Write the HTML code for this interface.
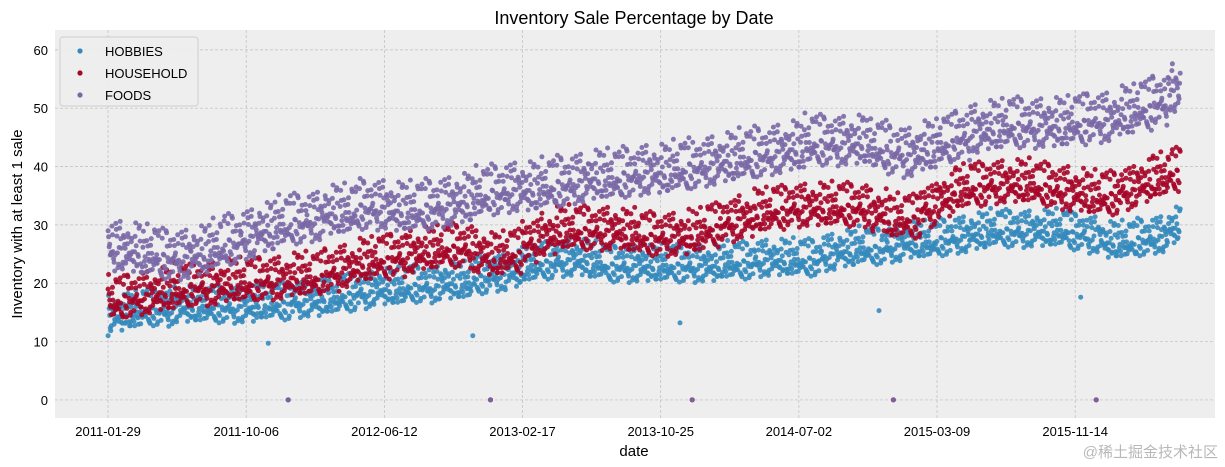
<!DOCTYPE html>
<html><head><meta charset="utf-8">
<style>
body{margin:0;background:#fff;font-family:"Liberation Sans","DejaVu Sans",sans-serif;}
svg{display:block}
</style></head>
<body>
<svg id="chart" width="1225" height="467" xmlns="http://www.w3.org/2000/svg">
<text x="634" y="24" text-anchor="middle" font-size="18" fill="#000">Inventory Sale Percentage by Date</text>
<rect x="55" y="30" width="1160" height="388" fill="#eeeeee"/>
<g id="grid"></g>
<g id="marks"></g>
<g id="axes"></g>
<text x="634" y="456" text-anchor="middle" font-size="15">date</text>
<text transform="translate(22,224) rotate(-90)" text-anchor="middle" font-size="15">Inventory with at least 1 sale</text>
<g>
<rect x="60" y="37" width="138" height="69" rx="3" fill="#eeeeee" stroke="#cccccc" opacity="0.9"/>
<g><circle cx="80" cy="51" r="2.6" fill="#348ABD"/><text x="105" y="56" font-size="13">HOBBIES</text></g>
<g><circle cx="80" cy="73" r="2.6" fill="#A60628"/><text x="105" y="78" font-size="13">HOUSEHOLD</text></g>
<g><circle cx="80" cy="95" r="2.6" fill="#7A68A6"/><text x="105" y="100" font-size="13">FOODS</text></g>
</g>
<text x="1218" y="457" text-anchor="end" font-size="15" fill="#b8b8b8" font-family="'Liberation Sans','Noto Sans CJK SC',sans-serif">@稀土掘金技术社区</text>
</svg>
<script>
const xTickLabels=["2011-01-29","2011-10-06","2012-06-12","2013-02-17","2013-10-25","2014-07-02","2015-03-09","2015-11-14"];
const xTickDays=[0,250,500,750,1000,1250,1500,1750];
const yTicks=[0,10,20,30,40,50,60];
const seriesNames=["HOBBIES","HOUSEHOLD","FOODS"];
const seriesColors=["#348ABD","#A60628","#7A68A6"];
const hobbiesMonthly=[14.5,15,15.5,15.5,16,16,16,16,16,16.5,16.5,17,17,17.5,18,18.5,19,19,19.5,19.5,20,20,21,21.5,22,23,23.5,24,24,23.5,23,23,23,23,23,23,23,23.5,23.5,24,24,24,24,25,25.5,26,26,26.5,27,27,27.5,28,28.5,29,29,29,29,29,28.5,28,27,27,27.5,28,29.5];
const householdMonthly=[17,17.5,18,18.5,19,19.5,19.5,20,20,20.5,20.5,21,21,22,22.5,23.5,24,24.5,25,25.5,26,26,25,24.5,25,27,28,29,29,29,29,28.5,28,28,28,28.5,29.5,30.5,31,32,32.5,33,33,33,33,33,32,31,31,33,34.5,36,36.5,37,37,37,36.5,36,35.5,35,35,36,37,38,39];
const foodsMonthly=[26,25.5,25,24.5,24.5,25,26,27,28,29,30,30.5,31,32,32,33,33,32.5,32.5,33,33.5,34,35,35.5,36,36,36.5,37,37.5,38,38,38.5,39,39,39.5,40,40.5,41,41.5,42,42.5,43,44,44,44,44,43,42.5,42,43,44,45,46,46.5,47,47,47,47,47.5,48,48,49,50,51,53];
const weekdayEffect=[2.4,3.0,0.6,-0.9,-1.6,-2.0,-1.4];
const jitter=[0.6,-1.1,1.3,-0.4,0.9,-1.4,0.2,1.0,-0.7,-0.2,1.5,-1.0,0.4,-1.3,0.8,-0.5,1.2];
const seriesScale=[0.85,1.0,1.15];
const zeroDays=[326,692,1057,1421,1788];
const hobbiesOutlierDays=[0,290,660,1035,1395,1760];
const hobbiesOutlierVals=[11,9.7,11,13.2,15.3,17.6];
const nDays=1941;

const NS="http://www.w3.org/2000/svg";
const X0=55,X1=1215,Y0=30,Y1=418;
const dMin=-96,dMax=2003,vMin=-3.1,vMax=63.4;
function xs(d){return X0+(d-dMin)/(dMax-dMin)*(X1-X0);}
function ys(v){return Y1-(v-vMin)/(vMax-vMin)*(Y1-Y0);}
function mk(t,a,p){const e=document.createElementNS(NS,t);for(const k in a)e.setAttribute(k,a[k]);p.appendChild(e);return e;}
const grid=document.getElementById('grid'),axes=document.getElementById('axes'),marks=document.getElementById('marks');
xTickDays.forEach((d,i)=>{
 const l=mk('line',{x1:xs(d),x2:xs(d),y1:Y0,y2:Y1,stroke:'#bdbdbd','stroke-width':0.7,'stroke-dasharray':'3,2'},grid);
 
 
 const t=mk('text',{x:xs(d),y:Y1+18,'text-anchor':'middle','font-size':13},axes);
 t.textContent=xTickLabels[i];
 
 
});
yTicks.forEach(v=>{
 const l=mk('line',{x1:X0,x2:X1,y1:ys(v),y2:ys(v),stroke:'#bdbdbd','stroke-width':0.7,'stroke-dasharray':'3,2'},grid);
 
 
 const t=mk('text',{x:X0-7,y:ys(v)+5,'text-anchor':'end','font-size':13},axes);
 t.textContent=v;
 
 
});
const monthly=[hobbiesMonthly,householdMonthly,foodsMonthly];
monthly.forEach((arr,s)=>{
 const g=mk('g',{fill:seriesColors[s],'fill-opacity':0.9},marks);
 
 
 for(let d=0;d<nDays;d++){
  let v;
  if(zeroDays.includes(d)) v=0;
  else{
   const m=Math.min(arr.length-1,Math.floor(d/30));
   v=arr[m]+(weekdayEffect[d%7]+jitter[(d*7+s*3)%jitter.length])*seriesScale[s];
  }
  const oi=s===0?hobbiesOutlierDays.indexOf(d):-1;
  if(oi>=0) v=hobbiesOutlierVals[oi];
  const c=mk('circle',{cx:xs(d).toFixed(1),cy:ys(v).toFixed(1),r:2.5},g);
  
  
 }
});
</script>
</body></html>
